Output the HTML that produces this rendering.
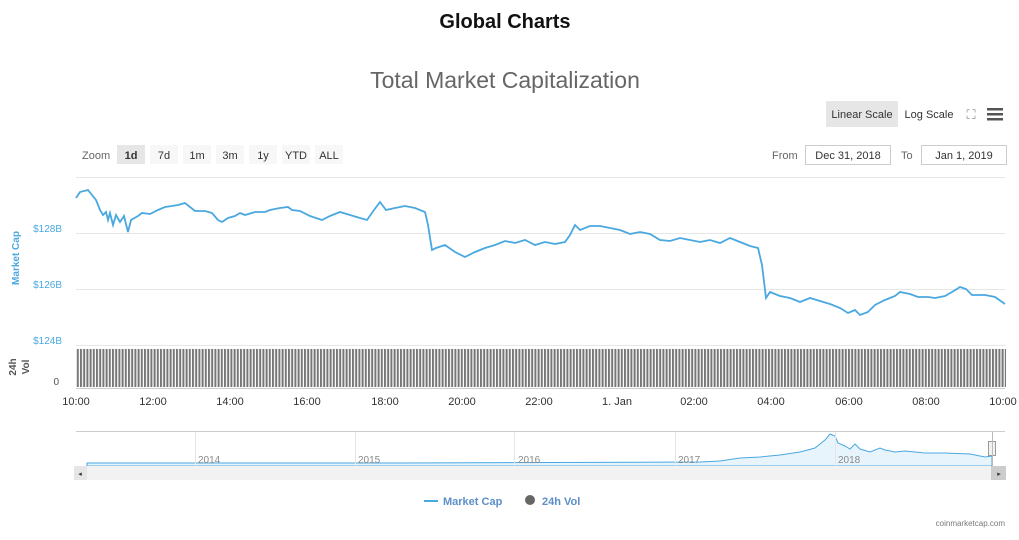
<!DOCTYPE html><html><head><style>body{margin:0;background:#fff;width:1019px;height:535px;overflow:hidden;font-family:"Liberation Sans",sans-serif}</style></head><body>
<svg width="1019" height="535" xmlns="http://www.w3.org/2000/svg" font-family="Liberation Sans, sans-serif">
<defs><pattern id="vb" width="3.2" height="40" patternUnits="userSpaceOnUse"><rect x="0" y="0" width="2" height="40" fill="#777"/></pattern></defs>
<text x="505" y="28" font-size="20" font-weight="bold" text-anchor="middle" fill="#111">Global Charts</text>
<text x="505" y="88" font-size="23" text-anchor="middle" fill="#666">Total Market Capitalization</text>
<rect x="826" y="101" width="72" height="26" fill="#e6e6e6"/>
<text x="862" y="118" font-size="11" text-anchor="middle" fill="#333">Linear Scale</text>
<text x="929" y="118" font-size="11" text-anchor="middle" fill="#333">Log Scale</text>
<text x="971" y="119" font-size="13" text-anchor="middle" fill="#888">⛶</text>
<rect x="987" y="108" width="16" height="2.5" fill="#555"/><rect x="987" y="113" width="16" height="2.5" fill="#555"/><rect x="987" y="118" width="16" height="2.5" fill="#555"/>
<g font-size="11" fill="#333">
<text x="82" y="159" fill="#666">Zoom</text>
<rect x="117" y="145" width="28" height="19" fill="#e6e6e6"/><text x="131" y="159" text-anchor="middle" font-weight="bold">1d</text>
<rect x="150" y="145" width="28" height="19" fill="#f7f7f7"/><text x="164" y="159" text-anchor="middle">7d</text>
<rect x="183" y="145" width="28" height="19" fill="#f7f7f7"/><text x="197" y="159" text-anchor="middle">1m</text>
<rect x="216" y="145" width="28" height="19" fill="#f7f7f7"/><text x="230" y="159" text-anchor="middle">3m</text>
<rect x="249" y="145" width="28" height="19" fill="#f7f7f7"/><text x="263" y="159" text-anchor="middle">1y</text>
<rect x="282" y="145" width="28" height="19" fill="#f7f7f7"/><text x="296" y="159" text-anchor="middle">YTD</text>
<rect x="315" y="145" width="28" height="19" fill="#f7f7f7"/><text x="329" y="159" text-anchor="middle">ALL</text>
<text x="772" y="159" fill="#666">From</text>
<rect x="805.5" y="145.5" width="85" height="19" fill="#fff" stroke="#ccc"/><text x="848" y="159" text-anchor="middle">Dec 31, 2018</text>
<text x="901" y="159" fill="#666">To</text>
<rect x="921.5" y="145.5" width="85" height="19" fill="#fff" stroke="#ccc"/><text x="964" y="159" text-anchor="middle">Jan 1, 2019</text>
</g>
<g stroke="#e6e6e6" stroke-width="1"><line x1="76" y1="177.5" x2="1005" y2="177.5"/><line x1="76" y1="233.5" x2="1005" y2="233.5"/><line x1="76" y1="289.5" x2="1005" y2="289.5"/><line x1="76" y1="345.5" x2="1005" y2="345.5"/></g>
<g font-size="10" fill="#4aa8e0" text-anchor="end"><text x="62" y="232">$128B</text><text x="62" y="288">$126B</text><text x="62" y="344">$124B</text></g>
<text transform="translate(19,258) rotate(-90)" font-size="10" font-weight="bold" fill="#4aa8e0" text-anchor="middle">Market Cap</text>
<text transform="translate(16,367) rotate(-90)" font-size="10" font-weight="bold" fill="#555" text-anchor="middle">24h</text>
<text transform="translate(29,367) rotate(-90)" font-size="10" font-weight="bold" fill="#555" text-anchor="middle">Vol</text>
<text x="59" y="385" font-size="10" fill="#555" text-anchor="end">0</text>
<rect x="76" y="349" width="930" height="38" fill="url(#vb)"/>
<line x1="76" y1="388.5" x2="1005" y2="388.5" stroke="#ccc"/>
<g font-size="11" fill="#333" text-anchor="middle"><text x="76" y="405">10:00</text><text x="153" y="405">12:00</text><text x="230" y="405">14:00</text><text x="307" y="405">16:00</text><text x="385" y="405">18:00</text><text x="462" y="405">20:00</text><text x="539" y="405">22:00</text><text x="617" y="405">1. Jan</text><text x="694" y="405">02:00</text><text x="771" y="405">04:00</text><text x="849" y="405">06:00</text><text x="926" y="405">08:00</text><text x="1003" y="405">10:00</text></g>
<polyline fill="none" stroke="#4aa8e0" stroke-width="1.8" points="76,198 80,192 88,190 92,195 96,200 100,210 103,215 106,212 108,220 110,213 113,225 116,215 120,222 124,216 128,232 131,220 138,216 142,213 150,214 158,210 165,207 172,206 178,205 185,203 190,207 195,211 205,211 212,213 218,220 222,222 228,218 235,216 240,213 245,215 255,212 265,212 270,210 280,208 288,207 292,210 300,211 310,216 322,220 330,216 340,212 350,215 360,218 367,220 374,210 380,202 386,210 395,208 405,206 415,208 425,212 428,225 432,250 436,248 445,245 455,252 465,257 475,252 485,248 495,245 505,241 515,243 525,240 535,245 545,242 555,244 565,242 570,235 575,225 580,230 590,226 600,226 610,228 620,230 630,234 640,232 650,234 660,240 670,241 680,238 690,240 700,242 710,240 720,243 730,238 740,242 750,246 758,248 762,265 766,298 770,292 780,296 790,298 800,302 810,298 820,301 830,304 840,308 848,313 855,310 860,315 868,312 875,305 885,300 895,296 900,292 910,294 918,297 928,297 935,298 945,296 952,292 960,287 966,289 972,295 985,295 995,297 1005,304"/>
<line x1="76" y1="431.5" x2="1005" y2="431.5" stroke="#ccc"/>
<polygon fill="#e8f4fc" stroke="#4aa8e0" stroke-width="1" points="87,466 87,463 400,463 700,462 720,461 740,458 760,457 780,455 800,452 815,448 825,440 830,434 835,436 838,443 845,446 850,449 855,444 860,449 870,452 880,448 885,450 895,452 905,451 915,452 925,453 945,453 970,454 985,457 992,456 992,466"/>
<g stroke="#e6e6e6"><line x1="195.5" y1="432" x2="195.5" y2="466"/><line x1="355.5" y1="432" x2="355.5" y2="466"/><line x1="514.5" y1="432" x2="514.5" y2="466"/><line x1="675.5" y1="432" x2="675.5" y2="466"/><line x1="835.5" y1="432" x2="835.5" y2="466"/></g>
<g font-size="10" fill="#888"><text x="198" y="463">2014</text><text x="358" y="463">2015</text><text x="518" y="463">2016</text><text x="678" y="463">2017</text><text x="838" y="463">2018</text></g>
<rect x="988.5" y="441.5" width="7" height="14" fill="#f2f2f2" stroke="#999"/>
<line x1="992.5" y1="432" x2="992.5" y2="466" stroke="#bbb"/>
<rect x="74" y="466" width="932" height="14" fill="#f2f2f2"/>
<rect x="74" y="466" width="13" height="14" fill="#e6e6e6"/><text x="80" y="476" font-size="7" text-anchor="middle" fill="#333">◂</text>
<rect x="991" y="466" width="15" height="14" fill="#ccc"/><text x="999" y="476" font-size="7" text-anchor="middle" fill="#333">▸</text>
<line x1="424" y1="501" x2="438" y2="501" stroke="#4aa8e0" stroke-width="2"/>
<text x="443" y="505" font-size="11" font-weight="bold" fill="#5b8fc8">Market Cap</text>
<circle cx="530" cy="500" r="5" fill="#666"/>
<text x="542" y="505" font-size="11" font-weight="bold" fill="#5b8fc8">24h Vol</text>
<text x="1005" y="526" font-size="8" fill="#777" text-anchor="end">coinmarketcap.com</text>
</svg></body></html>
